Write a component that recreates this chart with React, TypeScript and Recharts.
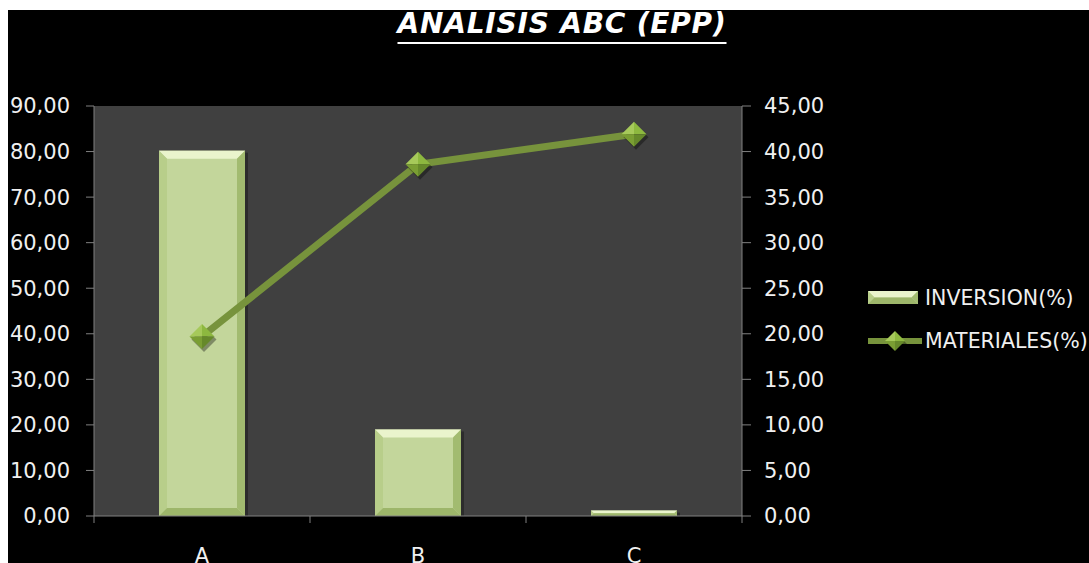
import React from 'react';
import { ComposedChart, Bar, Line, XAxis, YAxis, CartesianGrid } from 'recharts';

const categories = ['A', 'B', 'C'];
const inversionPct = [80.2, 19.0, 1.2];
const materialesPct = [19.7, 38.6, 41.9];
const leftTicks = [0, 10, 20, 30, 40, 50, 60, 70, 80, 90];
const rightTicks = [0, 5, 10, 15, 20, 25, 30, 35, 40, 45];

const data = categories.map((name, i) => ({
  name,
  inversion: inversionPct[i],
  materiales: materialesPct[i],
}));

const FONT = '"DejaVu Sans", sans-serif';
const AXIS = '#808080';
const TEXT = '#f0f0f0';
const LINE = '#77933c';

const fmt = (v: number) => v.toFixed(2).replace('.', ',');

// bevelled bar, like the excel preset
const BevelBar = (props: any) => {
  const { x, y, width: w, height: h } = props;
  if (!h || h <= 0) return null;
  const b = Math.min(8, h / 2, w / 2);
  return (
    <g>
      <rect x={x + 3} y={y + 2} width={w} height={h - 2} fill="#000" opacity={0.3} />
      <rect x={x} y={y} width={w} height={h} fill="#c3d69b" />
      <polygon points={`${x},${y} ${x + w},${y} ${x + w - b},${y + b} ${x + b},${y + b}`} fill="#eaf4cc" />
      <polygon points={`${x},${y} ${x + b},${y + b} ${x + b},${y + h - b} ${x},${y + h}`} fill="#b8ce8a" />
      <polygon points={`${x + w},${y} ${x + w},${y + h} ${x + w - b},${y + h - b} ${x + w - b},${y + b}`} fill="#a2bb70" />
      <polygon points={`${x},${y + h} ${x + b},${y + h - b} ${x + w - b},${y + h - b} ${x + w},${y + h}`} fill="#9db66a" />
    </g>
  );
};

const Diamond = ({ cx, cy, r = 12 }: { cx: number; cy: number; r?: number }) => (
  <g>
    <polygon points={`${cx + 2},${cy - r + 3} ${cx + r + 2},${cy + 3} ${cx + 2},${cy + r + 3} ${cx - r + 2},${cy + 3}`} fill="#000" opacity={0.35} />
    <polygon points={`${cx},${cy - r} ${cx},${cy} ${cx - r},${cy}`} fill="#a6c95a" />
    <polygon points={`${cx},${cy - r} ${cx + r},${cy} ${cx},${cy}`} fill="#8db83f" />
    <polygon points={`${cx - r},${cy} ${cx},${cy} ${cx},${cy + r}`} fill="#7a9e33" />
    <polygon points={`${cx},${cy} ${cx + r},${cy} ${cx},${cy + r}`} fill="#66892a" />
  </g>
);

const renderDot = (props: any) => {
  const { cx, cy, index } = props;
  if (cx == null || cy == null) return <g key={index} />;
  return <g key={index}><Diamond cx={cx} cy={cy} r={12.5} /></g>;
};

// category label + tick marks on the category boundaries
const CategoryTick = (props: any) => {
  const { x, y, payload } = props;
  const axisY = y - 32;
  const half = payload && payload.offset ? payload.offset : 0;
  return (
    <g>
      {half > 0 && <line x1={x - half} x2={x - half} y1={axisY} y2={axisY + 7} stroke={AXIS} />}
      {half > 0 && payload.index === categories.length - 1 && (
        <line x1={x + half} x2={x + half} y1={axisY} y2={axisY + 7} stroke={AXIS} />
      )}
      <text x={x} y={y} dy="0.71em" textAnchor="middle" fill={TEXT} fontSize={21} fontFamily={FONT}>
        {payload.value}
      </text>
    </g>
  );
};

const legendText: React.CSSProperties = {
  position: 'absolute',
  left: 917,
  color: TEXT,
  fontFamily: FONT,
  fontSize: 20.5,
  lineHeight: '24px',
  whiteSpace: 'nowrap',
};

export default function App() {
  return (
    <>
      <div
        style={{
          position: 'absolute',
          left: 8,
          top: 10,
          width: 1081,
          height: 553,
          background: '#000',
          overflow: 'hidden',
        }}
      >
        <ComposedChart
          width={1081}
          height={553}
          data={data}
          margin={{ top: 96, right: 247, bottom: 17, left: 0 }}
        >
          <CartesianGrid horizontal={false} vertical={false} fill="#404040" />
          <XAxis
            dataKey="name"
            height={30}
            stroke={AXIS}
            tickLine={false}
            tickSize={6}
            tickMargin={26}
            tick={<CategoryTick />}
            interval={0}
          />
          <YAxis
            yAxisId="left"
            width={86}
            domain={[0, 90]}
            ticks={leftTicks}
            tickFormatter={fmt}
            stroke={AXIS}
            tickSize={8}
            tickMargin={16}
            tick={{ fill: TEXT, fontSize: 21, fontFamily: FONT }}
            interval={0}
          />
          <YAxis
            yAxisId="right"
            orientation="right"
            width={100}
            domain={[0, 45]}
            ticks={rightTicks}
            tickFormatter={fmt}
            stroke={AXIS}
            tickSize={9}
            tickMargin={13}
            tick={{ fill: TEXT, fontSize: 21, fontFamily: FONT, textAnchor: 'start' }}
            interval={0}
          />
          <Bar
            yAxisId="left"
            dataKey="inversion"
            name="INVERSION(%)"
            barSize={86}
            shape={<BevelBar />}
            isAnimationActive={false}
          />
          <Line
            yAxisId="right"
            dataKey="materiales"
            name="MATERIALES(%)"
            type="linear"
            stroke={LINE}
            strokeWidth={7}
            dot={renderDot}
            activeDot={false}
            isAnimationActive={false}
          />
        </ComposedChart>

        {/* legend */}
        <svg style={{ position: 'absolute', left: 860, top: 281 }} width={52} height={14}>
          <BevelBar x={0} y={0} width={50} height={13} />
        </svg>
        <div style={{ ...legendText, top: 276 }}>INVERSION(%)</div>
        <svg style={{ position: 'absolute', left: 858, top: 316 }} width={60} height={32}>
          <line x1={2} x2={56} y1={15} y2={15} stroke={LINE} strokeWidth={6} />
          <Diamond cx={29} cy={15} r={10} />
        </svg>
        <div style={{ ...legendText, top: 319 }}>MATERIALES(%)</div>
      </div>

      {/* title sits outside the clipped box so nothing trims it */}
      <div
        style={{
          position: 'absolute',
          left: 562,
          top: 9,
          transform: 'translateX(-50%)',
          whiteSpace: 'nowrap',
          color: '#fff',
          fontFamily: FONT,
          fontWeight: 'bold',
          fontStyle: 'italic',
          fontSize: 28,
          lineHeight: '30px',
          letterSpacing: 0.8,
          textDecoration: 'underline',
          textUnderlineOffset: '9px',
          textDecorationThickness: '2px',
        }}
      >
        ANALISIS ABC (EPP)
      </div>
    </>
  );
}
